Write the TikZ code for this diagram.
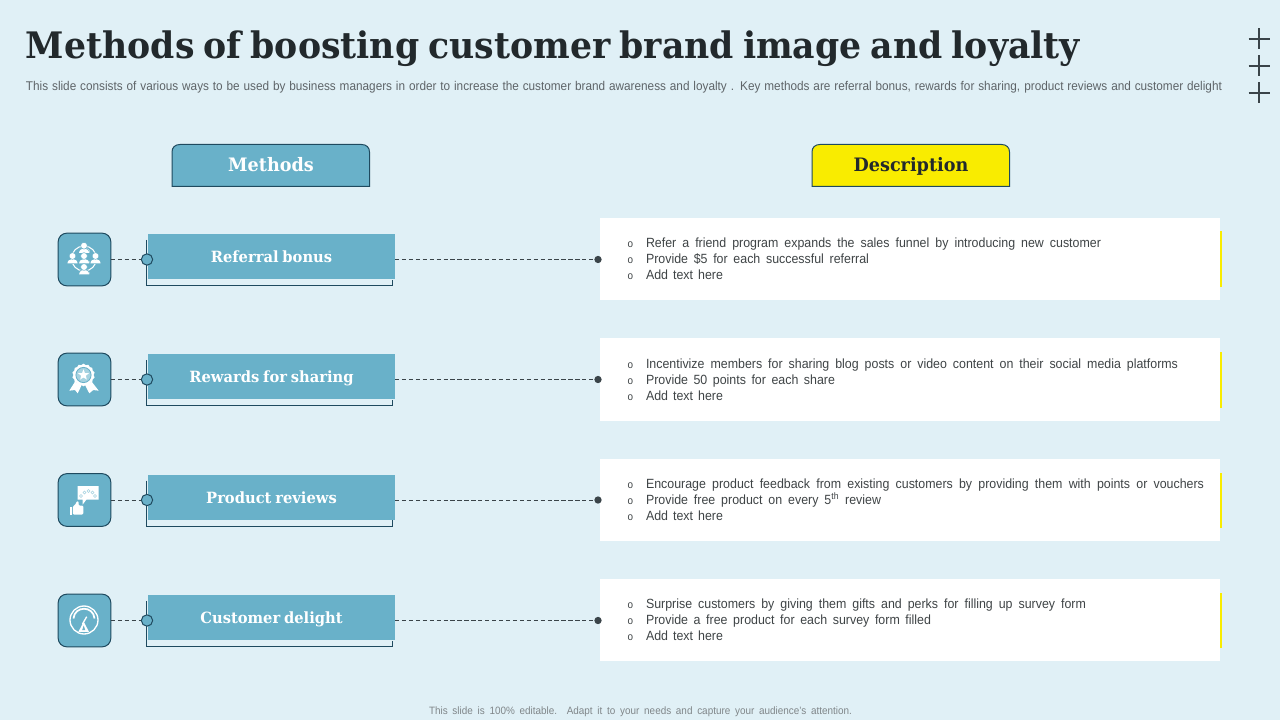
\documentclass[tikz,border=0pt]{standalone}
\usepackage{fontspec}
\setmainfont[FakeStretch=0.93]{Liberation Sans}
\newfontfamily\headfont[FakeStretch=0.95,WordSpace=0.75]{DejaVu Serif}[BoldFont={DejaVu Serif Bold}]
\usetikzlibrary{shapes.geometric}
\newdimen\pxu \pxu=0.75pt
\definecolor{pagebg}{HTML}{E0F0F6}
\definecolor{tealbox}{HTML}{69B1C9}
\definecolor{tealpale}{HTML}{A5D2E0}
\definecolor{edgeblue}{HTML}{1F4A5F}
\definecolor{inkdark}{HTML}{22292C}
\definecolor{graytext}{HTML}{5E6468}
\definecolor{foottext}{HTML}{808689}
\definecolor{bodytext}{HTML}{3F4446}
\definecolor{hiyellow}{HTML}{F9EC00}
\definecolor{linedark}{HTML}{3A4449}
\tikzset{
  x=0.75pt,y=-0.75pt,
  every node/.style={inner sep=0pt,outer sep=0pt},
  labelbox/.style={fill=tealbox,minimum width=185.25pt,minimum height=33.75pt,text=white,text height=10pt,text depth=1pt,font=\headfont\bfseries\fontsize{11.6}{14}\selectfont},
  iconbox/.style={fill=tealbox,draw=edgeblue,line width=0.75pt,rounded corners=6.5pt,minimum width=39.5pt,minimum height=39.5pt},
  knob/.style={circle,fill=tealbox,draw=edgeblue,line width=0.75pt,minimum size=8.5pt},
  enddot/.style={circle,fill=linedark,minimum size=5.5pt},
  card/.style={fill=white,minimum width=465pt,anchor=north west},
  link/.style={draw=linedark,line width=0.75pt,dash pattern=on 3.2pt off 2pt},
  backline/.style={draw=edgeblue,line width=0.75pt},
  headshape/.style={draw=edgeblue,line width=0.75pt},
  headtext/.style={anchor=base,font=\headfont\bfseries\fontsize{13.9}{16}\selectfont},
  txt/.style={anchor=base west,text=bodytext,font=\fontsize{10}{11}\selectfont},
  bul/.style={anchor=base west,text=bodytext,font=\fontsize{8}{9}\selectfont},
  icw/.style={fill=white,draw=tealbox,line width=0.4pt},
  plusmark/.style={draw=linedark,line width=2pt},
}
\newcommand{\fitline}[2]{\makebox[#1\pxu][s]{#2}}
\newcommand{\methodrow}[6]{%
  \node[iconbox] (icon#1) at (84.5,#2) {};
  \draw[backline] (146.5,#2-19.5) -- (146.5,#2+26) -- (392.5,#2+26) -- (392.5,#2+20);
  \node[labelbox] (label#1) at (271.5,#2-3) {#3};
  \node[knob] (knob#1) at (147,#2) {};
  \path[link] (icon#1.east |- knob#1) -- (knob#1.west);
  \node[card,minimum height=#5*0.75pt] (card#1) at (600,#4) {};
  \fill[hiyellow] (1220,#4+13.5) rectangle (1222,#4+#5-13);
  \node[enddot] (dot#1) at (598,#2) {};
  \path[link] (label#1.east |- dot#1) -- (dot#1);
  #6
}
\newcommand{\bullets}[1]{%
  \node[bul] (b#1a) at (627.5,#1-11.5) {o};
  \node[bul] (b#1b) at (627.5,#1+4.5) {o};
  \node[bul] (b#1c) at (627.5,#1+20.5) {o};
}
\newcommand{\person}[2]{%
  \filldraw[icw] (#1-5.5,#2+4.6) .. controls (#1-5.5,#2-2.4) and (#1+5.5,#2-2.4) .. (#1+5.5,#2+4.6) -- cycle;
  \filldraw[icw] (#1,#2-3) circle[radius=3.4];
}
\begin{document}
\begin{tikzpicture}
\useasboundingbox (0,0) rectangle (1280,720);
\fill[pagebg] (0,0) rectangle (1280,720);

\node[anchor=base west,text=inkdark,font=\headfont\bfseries\fontsize{27.38}{32}\selectfont] (title) at (26,59) {Methods of boosting customer brand image and loyalty};
\node[anchor=base west,text=graytext,font=\fontsize{9.5}{10}\selectfont] (subtitle) at (26,91) {\fitline{1196}{This slide consists of various ways to be used by business managers in order to increase the customer brand awareness and loyalty . Key methods are referral bonus, rewards for sharing, product reviews and customer delight}};

\foreach \py/\pn in {39/p1,66/p2,93/p3}{
  \coordinate (\pn) at (1259,\py);
  \draw[plusmark] (1248.5,\py) -- (1269.5,\py);
  \draw[plusmark] (1259,\py-10.5) -- (1259,\py+10.5);
}

% headers
\draw[headshape,fill=tealbox] (172,186.5) -- (172,152) .. controls (172,147.5) and (175,144.5) .. (180,144.5) -- (361.5,144.5) .. controls (366.5,144.5) and (369.5,147.5) .. (369.5,152) -- (369.5,186.5) -- cycle;
\node[headtext,text=white] (methods) at (271,172) {Methods};
\draw[headshape,fill=hiyellow] (812,186.5) -- (812,152) .. controls (812,147.5) and (815,144.5) .. (820,144.5) -- (1001.5,144.5) .. controls (1006.5,144.5) and (1009.5,147.5) .. (1009.5,152) -- (1009.5,186.5) -- cycle;
\node[headtext,text=inkdark] (description) at (911,172) {Description};

\methodrow{1}{259.5}{Referral bonus}{218}{82}{%
  \bullets{259}
  \node[txt] (t1a) at (646,247.5) {\fitline{455}{Refer a friend program expands the sales funnel by introducing new customer}};
  \node[txt] (t1b) at (646,263.5) {\fitline{223}{Provide \$5 for each successful referral}};
  \node[txt] (t1c) at (646,279.5) {\fitline{77}{Add text here}};
}
\methodrow{2}{379.5}{Rewards for sharing}{338}{83}{%
  \bullets{379.5}
  \node[txt] (t2a) at (646,368) {\fitline{532}{Incentivize members for sharing blog posts or video content on their social media platforms}};
  \node[txt] (t2b) at (646,384) {\fitline{189}{Provide 50 points for each share}};
  \node[txt] (t2c) at (646,400) {\fitline{77}{Add text here}};
}
\methodrow{3}{500}{Product reviews}{459}{82}{%
  \bullets{500}
  \node[txt] (t3a) at (646,488.5) {\fitline{558}{Encourage product feedback from existing customers by providing them with points or vouchers}};
  \node[txt] (t3b) at (646,504.5) {\fitline{235}{Provide free product on every 5\textsuperscript{th} review}};
  \node[txt] (t3c) at (646,520.5) {\fitline{77}{Add text here}};
}
\methodrow{4}{620.5}{Customer delight}{579}{82}{%
  \bullets{620}
  \node[txt] (t4a) at (646,608.5) {\fitline{440}{Surprise customers by giving them gifts and perks for filling up survey form}};
  \node[txt] (t4b) at (646,624.5) {\fitline{285}{Provide a free product for each survey form filled}};
  \node[txt] (t4c) at (646,640.5) {\fitline{77}{Add text here}};
}

% icon 1: people network
\draw[white,line width=0.8pt] (84,258.5) circle[radius=12.5];
\person{84}{248.7}
\person{72.5}{259}
\person{84}{259}
\person{95.5}{259}
\person{84}{270}

% icon 2: award badge
\fill[white] (75,381.7) -- (69.3,390.7) -- (75,390) -- (77.7,393.3) -- (81.7,385) -- cycle;
\fill[white] (91.7,381.7) -- (98.7,390.7) -- (93.3,390) -- (89.3,393.3) -- (85,385) -- cycle;
\node[star,star points=14,star point ratio=1.12,fill=white,minimum size=17pt] (awardedge) at (83.5,375) {};
\fill[tealpale] (83.5,375) circle[radius=7.6];
\draw[tealbox,line width=0.6pt] (83.5,375) circle[radius=7.6];
\node[star,star points=5,star point ratio=2.3,fill=white,minimum size=8.5pt] (awardstar) at (83.5,375) {};

% icon 3: review bubble and thumb
\fill[white] (77.7,486) -- (98.5,486) -- (98.5,499.5) -- (86.5,499.5) -- (82.7,504.5) -- (82.7,499.5) -- (77.7,499.5) -- cycle;
\draw[tealpale,line width=0.4pt] (81,496) circle[radius=1.6] (84.5,492.5) circle[radius=1.6] (88.5,491) circle[radius=1.6] (92.5,492.5) circle[radius=1.6] (95,496) circle[radius=1.6];
\fill[white] (70,507) rectangle (72.2,514.5);
\fill[white,rounded corners=0.8pt] (72.8,506.5) -- (75,505) -- (77,501) -- (78.8,501.5) -- (78.5,505.5) -- (83.3,505.5) -- (83.3,514.5) -- (72.8,514.5) -- cycle;

% icon 4: gauge
\draw[white,line width=1pt] (84,620) circle[radius=14];
\draw[white,line width=1.3pt] (73.5,618.5) .. controls (74.5,605.5) and (93.5,605.5) .. (94.5,618.5);
\draw[white,line width=1pt] (82.5,624) -- (86.7,616.7);
\fill[white] (83.7,621.7) -- (89,631.8) -- (78.4,631.8) -- cycle;
\fill[tealbox] (83.7,625.5) -- (85.2,630) -- (82.2,630) -- cycle;

\node[anchor=base,text=foottext,font=\fontsize{8}{9}\selectfont] (foot) at (640.5,714) {\fitline{423}{This slide is 100\% editable. Adapt it to your needs and capture your audience's attention.}};
\end{tikzpicture}
\end{document}
